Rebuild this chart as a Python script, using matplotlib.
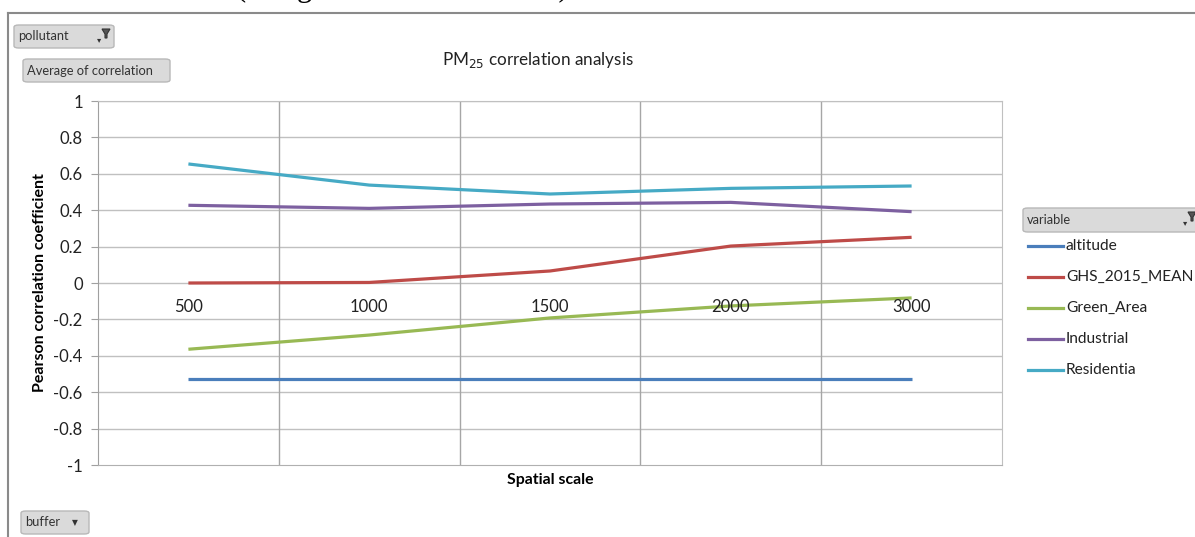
import numpy as np
import matplotlib
matplotlib.use("Agg")
import matplotlib.pyplot as plt
from matplotlib.patches import FancyBboxPatch, Polygon
from matplotlib.lines import Line2D

plt.rcParams['font.family'] = ['Lato', 'DejaVu Sans']

# data
scales = ['500', '1000', '1500', '2000', '3000']
altitude = [-0.53, -0.53, -0.53, -0.53, -0.53]
ghs_2015_mean = [0.0, 0.003, 0.066, 0.203, 0.251]
green_area = [-0.364, -0.286, -0.192, -0.126, -0.082]
industrial = [0.427, 0.41, 0.434, 0.443, 0.392]
residentia = [0.654, 0.538, 0.489, 0.52, 0.533]

series = [
    ('altitude', altitude, '#4a7ebb'),
    ('GHS_2015_MEAN', ghs_2015_mean, '#be4b48'),
    ('Green_Area', green_area, '#98b954'),
    ('Industrial', industrial, '#7d60a0'),
    ('Residentia', residentia, '#46aac5'),
]

W, H = 1195, 537
fig = plt.figure(figsize=(W / 100, H / 100), dpi=100)

def fx(px):
    return px / W

def fy(py):
    return 1 - py / H

ax = fig.add_axes([fx(98), fy(465), fx(1002) - fx(98), fy(101) - fy(465)])
x = np.arange(len(scales))
for name, vals, col in series:
    ax.plot(x, vals, color=col, linewidth=2.3, solid_capstyle='butt', label=name)

ax.set_xlim(-0.5, len(scales) - 0.5)
ax.set_ylim(-1, 1)
ax.set_yticks(np.arange(-1, 1.01, 0.2))
ax.set_yticklabels(['-1', '-0.8', '-0.6', '-0.4', '-0.2', '0', '0.2', '0.4', '0.6', '0.8', '1'])
ax.set_xticks([])
ax.tick_params(axis='y', length=5, color='#a0a0a0', labelsize=12, labelcolor='#222222', pad=6)
for yv in np.arange(-0.8, 1.01, 0.2):
    ax.axhline(yv, color='#c0c0c0', linewidth=1.0, zorder=0)
for xv in np.arange(0.5, len(scales) - 0.5, 1):
    ax.axvline(xv, color='#a6a6a6', linewidth=1.0, zorder=0)
for s in ax.spines.values():
    s.set_color('#c0c0c0')
ax.spines['left'].set_color('#a0a0a0')
ax.spines['bottom'].set_color('#b0b0b0')

# category labels sit just under the zero line
for i, lab in enumerate(scales):
    ax.annotate(lab, (i, 0), xytext=(0, -17), textcoords='offset points',
                ha='center', va='center', fontsize=12, color='#222222')

ax.set_ylabel('Pearson correlation coefficient', fontsize=11.5, fontweight='bold', labelpad=5)
fig.text(fx(550), fy(480), 'Spatial scale', ha='center', va='center',
         fontsize=11.4, fontweight='bold')
fig.text(fx(538), fy(60), 'PM$_{25}$ correlation analysis', ha='center', va='center',
         fontsize=12.3, color='#222222')

# chart frame and the caption above it, mostly cut off by the crop
fig.add_artist(Line2D([fx(8), 1], [fy(13), fy(13)], color='#8a8a8a', linewidth=1.5))
fig.add_artist(Line2D([fx(8), fx(8)], [fy(13), 0], color='#8a8a8a', linewidth=1.5))
fig.text(fx(236), fy(-4), '(using the buffer in metres)', ha='left', va='baseline',
         fontsize=22, family='Liberation Serif')

# pivot field buttons
def button(x0, y0, x1, y1, label, kind=None):
    fig.add_artist(FancyBboxPatch((fx(x0), fy(y1)), fx(x1) - fx(x0), fy(y0) - fy(y1),
                                  boxstyle='round,pad=0,rounding_size=0.004',
                                  facecolor='#dadada', edgecolor='#b8b8b8', linewidth=1))
    fig.text(fx(x0 + 4), fy((y0 + y1) / 2), label, ha='left', va='center',
             fontsize=9.3, color='#333333')
    if kind == 'funnel':
        fig.text(fx(x1 - 15), fy((y0 + y1) / 2 + 3), '▾', ha='center', va='center',
                 fontsize=6, color='#333333', family='DejaVu Sans')
        fig.add_artist(Polygon([(fx(x1 - 12), fy(y0 + 4)), (fx(x1 - 4), fy(y0 + 4)),
                                (fx(x1 - 7), fy(y0 + 9)), (fx(x1 - 7), fy(y0 + 13)),
                                (fx(x1 - 9), fy(y0 + 13)), (fx(x1 - 9), fy(y0 + 9))],
                               closed=True, facecolor='#555555', edgecolor='#333333', linewidth=0.8))
    elif kind == 'arrow':
        fig.text(fx(x1 - 14), fy((y0 + y1) / 2), '▼', ha='center', va='center',
                 fontsize=5.5, color='#333333', family='DejaVu Sans')

button(14, 25, 114, 48, 'pollutant', 'funnel')
button(23, 59, 170, 82, 'Average of correlation')
button(21, 511, 89, 534, 'buffer', 'arrow')
button(1023, 208, 1200, 232, 'variable', 'funnel')

# legend
for k, (name, vals, col) in enumerate(series):
    yy = 246 + k * 31
    fig.add_artist(Line2D([fx(1028), fx(1063)], [fy(yy), fy(yy)], color=col, linewidth=2.3))
    fig.text(fx(1066), fy(yy), name, ha='left', va='center', fontsize=11.2, color='#222222')

plt.savefig('out.png', dpi=100)
